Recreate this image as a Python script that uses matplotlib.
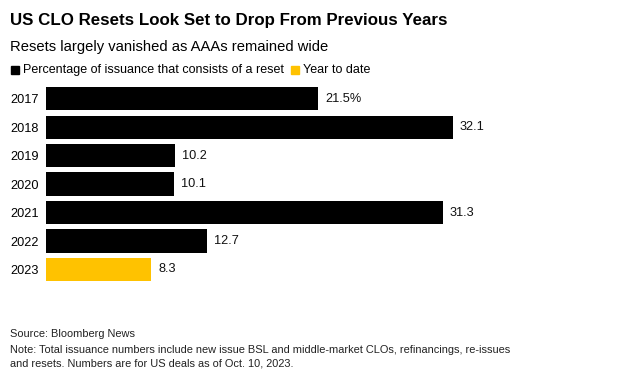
import matplotlib.pyplot as plt
import numpy as np

plt.rcParams['font.family'] = ['Liberation Sans', 'DejaVu Sans']

years = ['2017', '2018', '2019', '2020', '2021', '2022', '2023']
values = [21.5, 32.1, 10.2, 10.1, 31.3, 12.7, 8.3]
labels = ['21.5%', '32.1', '10.2', '10.1', '31.3', '12.7', '8.3']
ytd = [False, False, False, False, False, False, True]

BLACK = '#000000'
YELLOW = '#FFC200'

fig = plt.figure(figsize=(6.19, 3.85), dpi=100)
ax = fig.add_axes([0.0743, 0.263, 0.819, 0.518])

colors = [YELLOW if t else BLACK for t in ytd]
y = np.arange(len(years))
ax.barh(y, values, height=0.81, color=colors)
for yi, v, lab in zip(y, values, labels):
    ax.text(v + 0.55, yi, lab, va='center', ha='left', fontsize=9.2, color='#111111')

ax.set_xlim(0, 40)
ax.set_ylim(len(years) - 0.5, -0.5)
ax.set_yticks(y)
ax.set_yticklabels(years, fontsize=9.2)
ax.tick_params(axis='y', length=0, pad=5)
ax.set_xticks([])
for s in ax.spines.values():
    s.set_visible(False)

# header
fig.text(10 / 619, 1 - 20 / 385, 'US CLO Resets Look Set to Drop From Previous Years',
         fontsize=12.2, fontweight='bold', va='center', ha='left')
fig.text(10 / 619, 1 - 47 / 385, 'Resets largely vanished as AAAs remained wide',
         fontsize=10.6, va='center', ha='left')

# legend
fig.patches.append(plt.Rectangle((11 / 619, 1 - 74 / 385), 8 / 619, 8 / 385,
                                 transform=fig.transFigure, color=BLACK))
fig.text(23 / 619, 1 - 70 / 385, 'Percentage of issuance that consists of a reset',
         fontsize=9.0, va='center', ha='left')
fig.patches.append(plt.Rectangle((291 / 619, 1 - 74 / 385), 8 / 619, 8 / 385,
                                 transform=fig.transFigure, color=YELLOW))
fig.text(303 / 619, 1 - 70 / 385, 'Year to date',
         fontsize=9.0, va='center', ha='left')

# footer
foot = dict(fontsize=7.9, va='center', ha='left', color='#222222')
fig.text(10 / 619, 1 - 334 / 385, 'Source: Bloomberg News', **foot)
fig.text(10 / 619, 1 - 350 / 385,
         'Note: Total issuance numbers include new issue BSL and middle-market CLOs, refinancings, re-issues',
         **foot)
fig.text(10 / 619, 1 - 364 / 385, 'and resets. Numbers are for US deals as of Oct. 10, 2023.', **foot)

fig.savefig('out.png', dpi=100)
